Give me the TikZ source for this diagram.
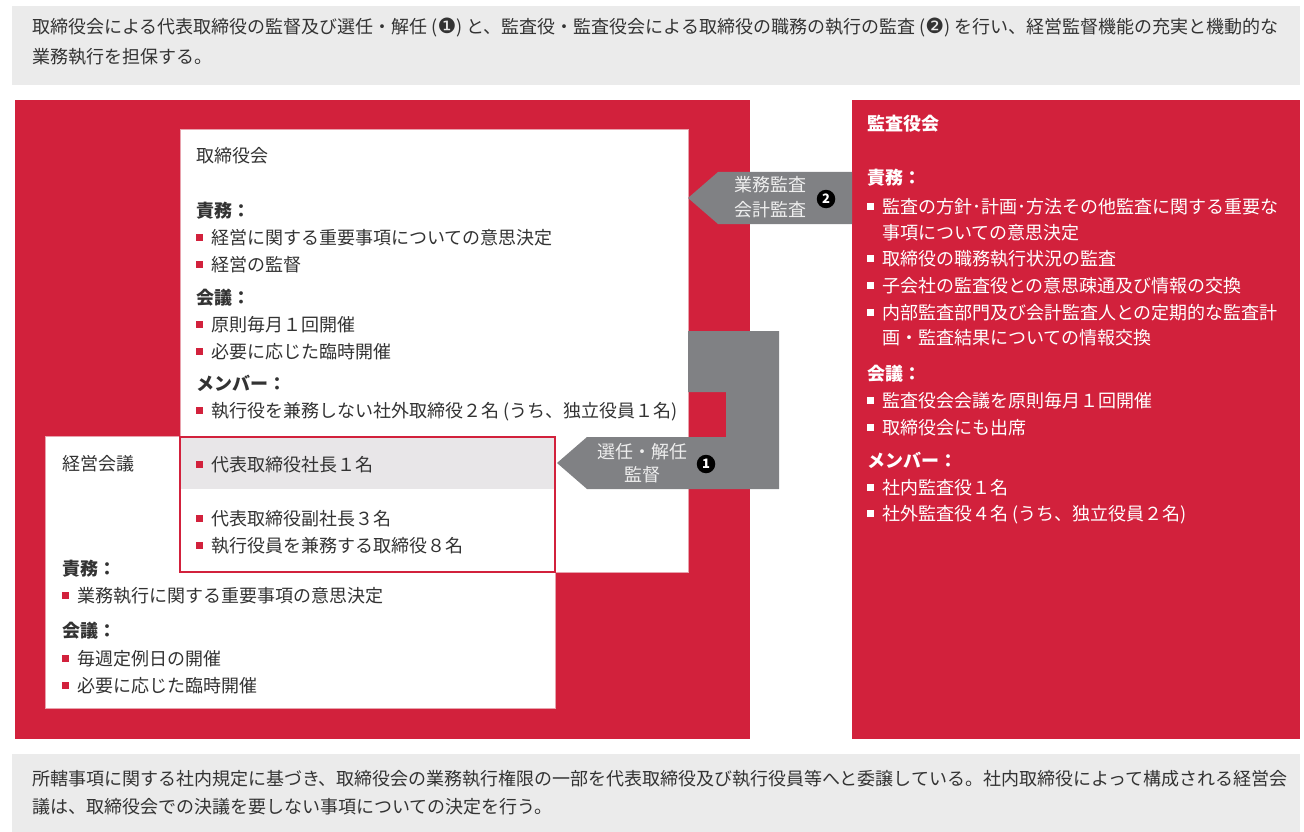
\documentclass[tikz,border=0pt]{standalone}
\usepackage{fontspec}
\setmainfont{Noto Sans CJK JP}
\newfontfamily\djv{DejaVu Sans}
\definecolor{redc}{HTML}{D2213C}
\definecolor{bannergray}{HTML}{EBEBEB}
\definecolor{bandgray}{HTML}{E8E6E8}
\definecolor{arrowgray}{HTML}{808184}
\definecolor{pinkb}{HTML}{E8A2AD}
\definecolor{dtext}{HTML}{333333}
\definecolor{arrowtxt}{HTML}{EEEEEE}
\newcommand\fs{\fontsize{18}{22}\selectfont}
\newcommand\bsq[1][redc]{\textcolor{#1}{\rule[0.17em]{0.39em}{0.39em}}\hspace{0.45em}}
\newcommand\cnum[1]{{\djv\fontsize{21}{22}\selectfont #1}}
\begin{document}
\begin{tikzpicture}[x=1pt,y=-1pt,
  t/.style={anchor=base west, inner sep=0pt, outer sep=0pt, font=\fs, text=dtext},
  tw/.style={t, text=white},
  h/.style={t, font=\fs\bfseries},
  hw/.style={h, text=white},
  num/.style={circle, fill=black, inner sep=0pt, minimum size=18.5pt, text=white, font=\fontsize{13}{13}\selectfont\bfseries},
  arrtxt/.style={anchor=center, inner sep=0pt, font=\fs, text=arrowtxt},
  panel/.style={fill=redc},
  wbox/.style={fill=white, draw=pinkb, line width=1pt}
]
\useasboundingbox (0,0) rectangle (1304,832);
% banners
\fill[bannergray] (12,6) rectangle (1300,85);
\fill[bannergray] (12,754) rectangle (1300,832);
\node[t] (top1) at (32,34) {取締役会による代表取締役の監督及び選任・解任 (\cnum{❶}) と、監査役・監査役会による取締役の職務の執行の監査 (\cnum{❷}) を行い、経営監督機能の充実と機動的な};
\node[t] (top2) at (32,64) {業務執行を担保する。};
\node[t] (bot1) at (32,785) {所轄事項に関する社内規定に基づき、取締役会の業務執行権限の一部を代表取締役及び執行役員等へと委譲している。社内取締役によって構成される経営会};
\node[t] (bot2) at (32,813) {議は、取締役会での決議を要しない事項についての決定を行う。};
% red panels
\fill[panel] (15,100) rectangle (750,739);
\fill[panel] (852,100) rectangle (1300,739);
% boxes
\draw[wbox] (45,436) rectangle (555,708);
\draw[wbox] (180,130) rectangle (688,572);
\fill[bandgray] (180,437) rectangle (555,489);
\draw[redc, line width=1.2pt] (180,437) rectangle (555,572);
% 取締役会 texts
\node[t] (tb) at (196,163) {取締役会};
\node[h] (tb1) at (196,217) {責務：};
\node[t] (tb2) at (196,244) {\bsq 経営に関する重要事項についての意思決定};
\node[t] (tb3) at (196,271) {\bsq 経営の監督};
\node[h] (tb4) at (196,304) {会議：};
\node[t] (tb5) at (196,331) {\bsq 原則毎月１回開催};
\node[t] (tb6) at (196,358) {\bsq 必要に応じた臨時開催};
\node[h] (tb7) at (196,390) {メンバー：};
\node[t] (tb8) at (196,417) {\bsq 執行役を兼務しない社外取締役２名 (うち、独立役員１名)};
\node[t] (tb9) at (196,471) {\bsq 代表取締役社長１名};
\node[t] (tb10) at (196,525) {\bsq 代表取締役副社長３名};
\node[t] (tb11) at (196,552) {\bsq 執行役員を兼務する取締役８名};
% 経営会議 texts
\node[t] (km) at (62,470) {経営会議};
\node[h] (km1) at (62,575) {責務：};
\node[t] (km2) at (62,602) {\bsq 業務執行に関する重要事項の意思決定};
\node[h] (km3) at (62,637) {会議：};
\node[t] (km4) at (62,665) {\bsq 毎週定例日の開催};
\node[t] (km5) at (62,692) {\bsq 必要に応じた臨時開催};
% 監査役会 texts
\node[hw] (ks) at (867,131) {監査役会};
\node[hw] (ks1) at (867,185) {責務：};
\node[tw] (ks2) at (867,213) {\bsq[white]監査の方針･計画･方法その他監査に関する重要な};
\node[tw] (ks3) at (882,239) {事項についての意思決定};
\node[tw] (ks4) at (867,265) {\bsq[white]取締役の職務執行状況の監査};
\node[tw] (ks5) at (867,292) {\bsq[white]子会社の監査役との意思疎通及び情報の交換};
\node[tw] (ks6) at (867,319) {\bsq[white]内部監査部門及び会計監査人との定期的な監査計};
\node[tw] (ks7) at (882,344) {画・監査結果についての情報交換};
\node[hw] (ks8) at (867,380) {会議：};
\node[tw] (ks9) at (867,407) {\bsq[white]監査役会会議を原則毎月１回開催};
\node[tw] (ks10) at (867,434) {\bsq[white]取締役会にも出席};
\node[hw] (ks11) at (867,467) {メンバー：};
\node[tw] (ks12) at (867,494) {\bsq[white]社内監査役１名};
\node[tw] (ks13) at (867,520) {\bsq[white]社外監査役４名 (うち、独立役員２名)};
% arrow 2 (監査役会 -> 取締役会)
\coordinate (a2tip) at (688,198);
\fill[arrowgray] (852,172) -- (718,172) -- (a2tip) -- (718,224) -- (852,224) -- cycle;
\node[arrtxt] (a2l1) at (770,185) {業務監査};
\node[arrtxt] (a2l2) at (770,210) {会計監査};
\node[num] (n2) at (826,199) {2};
% arrow 1 (取締役会 -> 経営会議)
\coordinate (a1tip) at (557,463);
\fill[arrowgray] (688,331) -- (779,331) -- (779,489) -- (587,489) -- (a1tip) -- (587,437) -- (726,437) -- (726,392) -- (688,392) -- cycle;
\node[arrtxt] (a1l1) at (642,452) {選任・解任};
\node[arrtxt] (a1l2) at (642,475) {監督};
\node[num] (n1) at (706,464) {1};
\end{tikzpicture}
\end{document}
